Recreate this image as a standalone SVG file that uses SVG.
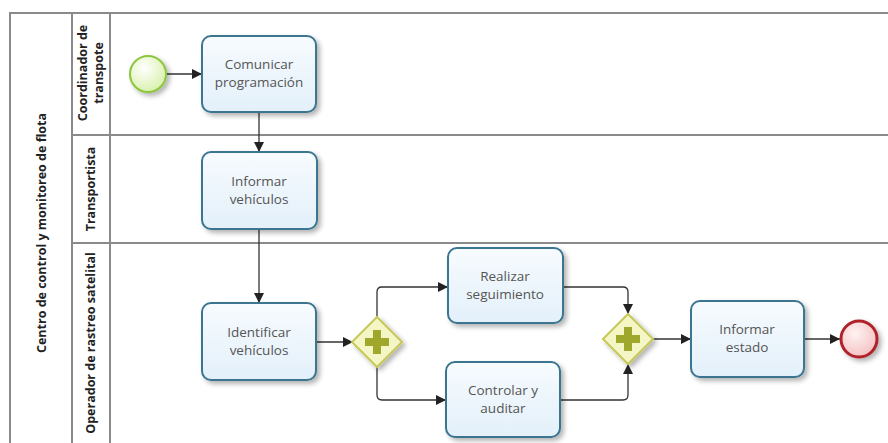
<svg xmlns="http://www.w3.org/2000/svg" width="888" height="443" viewBox="0 0 888 443">
<defs>
<linearGradient id="tg" x1="0" y1="0" x2="0" y2="1"><stop offset="0" stop-color="#f7fbfe"/><stop offset="1" stop-color="#e3f0fa"/></linearGradient>
<radialGradient id="sg" cx="0.4" cy="0.35" r="0.7"><stop offset="0" stop-color="#ffffff"/><stop offset="1" stop-color="#d8f0a8"/></radialGradient>
<radialGradient id="eg" cx="0.4" cy="0.35" r="0.7"><stop offset="0" stop-color="#fff2f2"/><stop offset="1" stop-color="#f4c0c0"/></radialGradient>
<filter id="sh" x="-20%" y="-20%" width="150%" height="150%"><feGaussianBlur in="SourceAlpha" stdDeviation="2.5"/><feOffset dx="3" dy="3"/><feComponentTransfer><feFuncA type="linear" slope="0.3"/></feComponentTransfer><feMerge><feMergeNode/><feMergeNode in="SourceGraphic"/></feMerge></filter>
<marker id="ar" viewBox="0 0 10 10" refX="10" refY="5" markerWidth="10" markerHeight="10" markerUnits="userSpaceOnUse" orient="auto"><path d="M0,0 L10,5 L0,10 z" fill="#222"/></marker>
</defs>
<style>
.lane{fill:none;stroke:#8a8a8a;stroke-width:2}
.task rect{fill:url(#tg);stroke:#3a7590;stroke-width:2;filter:url(#sh)}
.tt{font-family:"Open Sans","DejaVu Sans",sans-serif;font-size:13.5px;fill:#555;text-anchor:middle}
.lbl{font-family:"Open Sans","DejaVu Sans",sans-serif;font-size:12.5px;font-weight:bold;fill:#222;text-anchor:middle}
.gw polygon{fill:#f5f6c6;stroke:#c6c85a;stroke-width:2;filter:url(#sh)}
.plus{fill:#9fa82c}
.fl{fill:none;stroke:#333;stroke-width:1.3;marker-end:url(#ar)}
</style>
<rect width="888" height="443" fill="#fff"/>
<g id="pool">
<rect x="10" y="13" width="890" height="440" class="lane"/>
<line x1="72" y1="13" x2="72" y2="443" class="lane"/>
<line x1="110" y1="13" x2="110" y2="443" class="lane"/>
<line x1="72" y1="135" x2="888" y2="135" class="lane"/>
<line x1="72" y1="243" x2="888" y2="243" class="lane"/>
<text class="lbl" transform="translate(46,233) rotate(-90)">Centro de control y monitoreo de flota</text>
<text class="lbl" transform="translate(87,73) rotate(-90)">Coordinador de</text>
<text class="lbl" transform="translate(103,73) rotate(-90)">transpote</text>
<text class="lbl" transform="translate(95,189) rotate(-90)">Transportista</text>
<text class="lbl" transform="translate(95,343) rotate(-90)">Operador de rastreo satelital</text>
</g>
<g id="connectors">
<line x1="167" y1="74" x2="202" y2="74" class="fl"/>
<line x1="259" y1="112" x2="259" y2="152" class="fl"/>
<line x1="259" y1="229" x2="259" y2="303" class="fl"/>
<line x1="316" y1="342" x2="353" y2="342" class="fl"/>
<path d="M377,317 V292 Q377,287 382,287 H448" class="fl"/>
<path d="M377,367 V395 Q377,400 382,400 H446" class="fl"/>
<path d="M563,287 H623 Q628,287 628,292 V314" class="fl"/>
<path d="M560,400 H623 Q628,400 628,395 V364" class="fl"/>
<line x1="653" y1="339" x2="691" y2="339" class="fl"/>
<line x1="804" y1="339" x2="840" y2="339" class="fl"/>
</g>
<g id="start"><circle cx="148" cy="74" r="18" fill="url(#sg)" stroke="#8cc63c" stroke-width="2" filter="url(#sh)"/></g>
<g id="t1" class="task"><rect x="202" y="36" width="114" height="76" rx="9"/><text class="tt" x="259" y="69">Comunicar</text><text class="tt" x="259" y="87">programación</text></g>
<g id="t2" class="task"><rect x="202" y="152" width="115" height="77" rx="9"/><text class="tt" x="259" y="186">Informar</text><text class="tt" x="259" y="204">vehículos</text></g>
<g id="t3" class="task"><rect x="202" y="303" width="114" height="77" rx="9"/><text class="tt" x="259" y="337">Identificar</text><text class="tt" x="259" y="355">vehículos</text></g>
<g id="gw1" class="gw"><polygon points="377,317 402,342 377,367 352,342"/><path class="plus" d="M373,330 h8 v8 h8 v8 h-8 v8 h-8 v-8 h-8 v-8 h8 z"/></g>
<g id="t4" class="task"><rect x="448" y="248" width="115" height="75" rx="9"/><text class="tt" x="505" y="281">Realizar</text><text class="tt" x="505" y="299">seguimiento</text></g>
<g id="t5" class="task"><rect x="446" y="362" width="114" height="75" rx="9"/><text class="tt" x="503" y="395">Controlar y</text><text class="tt" x="503" y="413">auditar</text></g>
<g id="gw2" class="gw"><polygon points="628,314 653,339 628,364 603,339"/><path class="plus" d="M624,327 h8 v8 h8 v8 h-8 v8 h-8 v-8 h-8 v-8 h8 z"/></g>
<g id="t6" class="task"><rect x="691" y="301" width="113" height="76" rx="9"/><text class="tt" x="747" y="334">Informar</text><text class="tt" x="747" y="352">estado</text></g>
<g id="end"><circle cx="859" cy="339" r="18" fill="url(#eg)" stroke="#b0242a" stroke-width="3" filter="url(#sh)"/></g>
</svg>
